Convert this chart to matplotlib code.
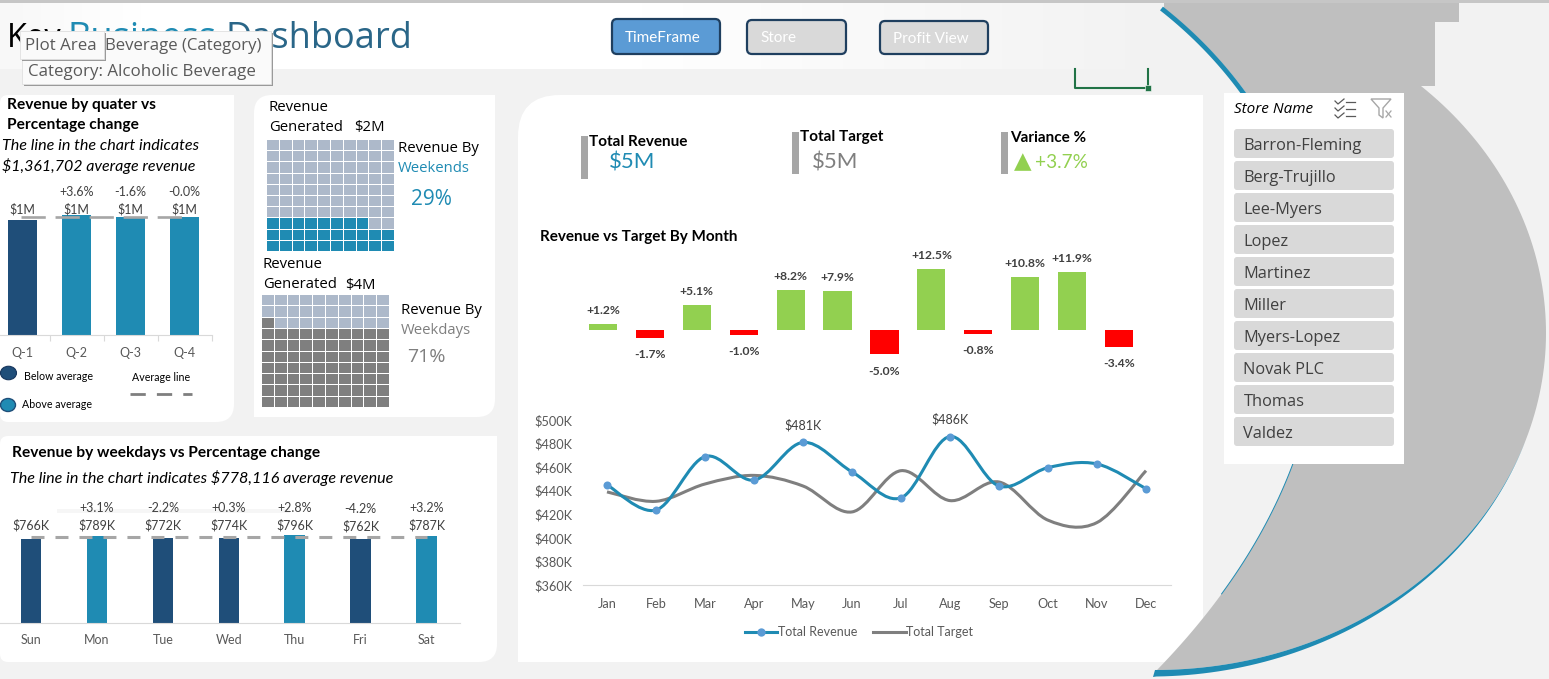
import numpy as np
import matplotlib
matplotlib.use('Agg')
import matplotlib.pyplot as plt
from matplotlib.colors import ListedColormap, LinearSegmentedColormap
from matplotlib.lines import Line2D
from matplotlib.patches import FancyBboxPatch, PathPatch, Polygon, Ellipse, Rectangle
from matplotlib.path import Path

W, H = 1549, 679
TEAL = '#1f8bb3'
NAVY = '#1f4e79'
GREEN = '#92d050'
RED = '#ff0000'
GREY = '#7f7f7f'
DASH = '#a6a6a6'
TXT = '#404040'
BG = '#f2f2f2'

quarters = ['Q-1', 'Q-2', 'Q-3', 'Q-4']
quarter_rev = [1.331, 1.388, 1.366, 1.366]
quarter_avg = 1.361702
quarter_lbl = ['$1M', '$1M', '$1M', '$1M']
quarter_chg = ['', '+3.6%', '-1.6%', '-0.0%']

days = ['Sun', 'Mon', 'Tue', 'Wed', 'Thu', 'Fri', 'Sat']
day_rev = [766, 789, 772, 774, 796, 762, 787]
day_avg = 778.116
day_chg = ['', '+3.1%', '-2.2%', '+0.3%', '+2.8%', '-4.2%', '+3.2%']

months = ['Jan', 'Feb', 'Mar', 'Apr', 'May', 'Jun', 'Jul', 'Aug', 'Sep', 'Oct', 'Nov', 'Dec']
variance = [1.2, -1.7, 5.1, -1.0, 8.2, 7.9, -5.0, 12.5, -0.8, 10.8, 11.9, -3.4]
revenue = [445, 423.6, 469, 449, 481, 456, 434, 486, 444, 459.6, 462.7, 441.7]
target = [439, 431, 445.7, 453, 444, 422, 457, 431.6, 447.4, 415, 413, 457]
y_ticks = [360, 380, 400, 420, 440, 460, 480, 500]

weekend_cells = 28
weekday_cells = 71
stores = ['Barron-Fleming', 'Berg-Trujillo', 'Lee-Myers', 'Lopez', 'Martinez',
          'Miller', 'Myers-Lopez', 'Novak PLC', 'Thomas', 'Valdez']

CAL = ['Lato', 'DejaVu Sans']
SEG = ['Open Sans', 'DejaVu Sans']

fig = plt.figure(figsize=(W / 100, H / 100), dpi=100, facecolor=BG)
base = fig.add_axes([0, 0, 1, 1])
base.set_xlim(0, W)
base.set_ylim(H, 0)
base.axis('off')


def box_axes(x0, y0, x1, y1):
    # axes from pixel box of the picture
    ax = fig.add_axes([x0 / W, 1 - y1 / H, (x1 - x0) / W, (y1 - y0) / H])
    ax.patch.set_alpha(0)
    return ax


def txt(x, y, s, size=11, color='black', family=CAL, **kw):
    kw.setdefault('va', 'center')
    return base.text(x, y + 1.5, s, fontsize=size, color=color, family=family, **kw)


def panel(x0, y0, x1, y1, tl=0, tr=0, br=0, bl=0, color='white', z=2):
    v = [(x0 + tl, y0), (x1 - tr, y0), (x1, y0), (x1, y0 + tr), (x1, y1 - br), (x1, y1),
         (x1 - br, y1), (x0 + bl, y1), (x0, y1), (x0, y1 - bl), (x0, y0 + tl), (x0, y0), (x0 + tl, y0)]
    c = [Path.MOVETO, Path.LINETO, Path.CURVE3, Path.CURVE3, Path.LINETO, Path.CURVE3, Path.CURVE3,
         Path.LINETO, Path.CURVE3, Path.CURVE3, Path.LINETO, Path.CURVE3, Path.CURVE3]
    base.add_patch(PathPatch(Path(v, c), fc=color, ec='none', zorder=z))


def smooth_path(xs, ys):
    # Excel style smoothed line, bezier segments through the points
    p = np.column_stack([xs, ys]).astype(float)
    q = np.vstack([p[0], p, p[-1]])
    v = [p[0]]
    c = [Path.MOVETO]
    for i in range(len(p) - 1):
        v += [q[i + 1] + (q[i + 2] - q[i]) / 6, q[i + 2] - (q[i + 3] - q[i + 1]) / 6, q[i + 2]]
        c += [Path.CURVE4] * 3
    return Path(v, c)


def button(x0, y0, x1, y1, s, fc, tx):
    base.add_patch(FancyBboxPatch((x0 + 5, y0 + 5), x1 - x0 - 10, y1 - y0 - 10,
                                  boxstyle='round,pad=5,rounding_size=5', fc=fc, ec='#1f3f5f', lw=1.6, zorder=4))
    txt(tx, (y0 + y1) / 2, s, 11, 'white', zorder=5)


# banner
grad = LinearSegmentedColormap.from_list('g', [(0, '#f8f8f8'), (0.12, 'white'), (0.55, 'white'), (1, BG)])
base.imshow(np.linspace(0, 1, 256).reshape(1, -1), extent=(0, 1166, 69, 3), aspect='auto', cmap=grad, zorder=1)
base.set_xlim(0, W)
base.set_ylim(H, 0)

# big crescent, sits over the corner of the main panel but under the slicer
ang = np.linspace(-np.arcsin(247 / 337), np.pi / 2, 120)
outer = np.column_stack([1155 + 391 * np.cos(ang), 333 + 337 * np.sin(ang)])
tt = np.linspace(0, 1, 120)[:, None]
inner = ((1 - tt) ** 3 * np.array([[1164, 8]]) + 3 * (1 - tt) ** 2 * tt * np.array([[1345, 150]])
         + 3 * (1 - tt) * tt ** 2 * np.array([[1400, 420]]) + tt ** 3 * np.array([[1157, 670]]))
top = [(1164, 2), (1459, 2), (1459, 22), (1435, 22), (1435, 86)]
base.add_patch(Polygon(np.vstack([top, outer, inner[::-1]]), fc='#bfbfbf', ec='none', zorder=1.5))
low = outer[outer[:, 1] > 440]
wid = np.linspace(0, 6.5, len(low))
strip = np.vstack([low, [[1153, 677]], np.column_stack([low[:, 0] + wid * 0.2, low[:, 1] + wid])[::-1]])
base.add_patch(Polygon(strip, fc=TEAL, ec='none', zorder=1.6))
up = inner[inner[:, 1] < 110]
base.plot(up[:, 0] - 2.5, up[:, 1] + 0.5, color=TEAL, lw=3.4, solid_capstyle='butt', zorder=1.6)
mid = inner[(inner[:, 1] > 440) & (inner[:, 1] < 600)]
base.plot(mid[:, 0], mid[:, 1], color=TEAL, lw=0.7, zorder=1.6)
base.add_patch(Rectangle((0, 0), W, 2.5, fc='#c6c6c6', ec='none', zorder=6))

# cell selection left on the sheet
base.plot([1075, 1075, 1148, 1148], [69, 88, 88, 69], color='#217346', lw=1.5, zorder=3)
base.add_patch(Rectangle((1145, 85), 6, 6, fc='#217346', ec='white', lw=0.4, zorder=3))

# white panels
panel(0, 95, 234, 422, tl=8, br=18, bl=8)
panel(254, 95, 495, 417, tl=18, br=18)
panel(0, 436, 497, 662, tl=8, br=18, bl=8)
panel(518, 95, 1203, 662, tl=42, z=1.4)
panel(1224, 93, 1404, 464)

# title and tooltips
txt(7, 37, 'Key', 23.5, 'black', SEG)
txt(68, 37, 'Business', 26, TEAL, SEG)
txt(226, 37, 'Dashboard', 26, '#2a6688', SEG)
base.add_patch(Rectangle((24, 33), 249, 53, fc='#9a9a9a', ec='none', zorder=7))
base.add_patch(Rectangle((22, 31), 249, 53, fc='#fafafa', ec='#e0e0e0', lw=0.6, zorder=7.1))
base.add_patch(Rectangle((22, 33), 84, 28, fc='#9a9a9a', ec='none', zorder=7.2))
base.add_patch(Rectangle((20, 31), 84, 28, fc='#fafafa', ec='#e0e0e0', lw=0.6, zorder=7.3))
txt(25, 45, 'Plot Area', 12.2, '#595959', SEG, zorder=8)
txt(105, 45, 'Beverage (Category)', 12.1, '#595959', SEG, zorder=8)
txt(28, 70, 'Category: Alcoholic Beverage', 12.2, '#595959', SEG, zorder=8)

button(612, 19, 720, 54, 'TimeFrame', '#5b9bd5', 625)
button(747, 20, 846, 54, 'Store', '#d9d9d9', 760)
button(880, 21, 988, 54, 'Profit View', '#d9d9d9', 893)

# quarter chart
txt(7, 104, 'Revenue by quater vs', 11.2, weight='bold', zorder=5)
txt(7, 124, 'Percentage change', 11.2, weight='bold', zorder=5)
txt(2, 145, 'The line in the chart indicates', 11.6, style='italic', zorder=5)
txt(2, 165, '$1,361,702 average revenue', 11.5, style='italic', zorder=5)

ax = box_axes(-4.5, 180, 211.5, 335)
q_colors = [NAVY if v < quarter_avg else TEAL for v in quarter_rev]
ax.bar(range(4), quarter_rev, width=0.535, color=q_colors)
ax.plot([-0.02, 3], [quarter_avg, quarter_avg], color=DASH, lw=1.9, ls=(0, (9.2, 3.7)))
ax.set_xlim(-0.5, 3.5)
ax.set_ylim(0, 155 / 86.4)
ax.set_xticks([0.5, 1.5, 2.5, 3.5])
ax.set_xticklabels([])
ax.tick_params(axis='x', length=4, color='#d9d9d9', direction='out')
ax.set_yticks([])
for s in ['top', 'left', 'right']:
    ax.spines[s].set_visible(False)
ax.spines['bottom'].set_color('#d9d9d9')
for i, q in enumerate(quarters):
    ax.annotate(q, (i, 0), xytext=(0, -13), textcoords='offset points', ha='center', va='center',
                fontsize=9, color='#595959', family=CAL, annotation_clip=False)
    ax.annotate(quarter_lbl[i], (i, quarter_avg), xytext=(0, 6), textcoords='offset points', ha='center', va='center',
                fontsize=9, color=TXT, family=CAL)
    ax.annotate(quarter_chg[i], (i, quarter_avg), xytext=(0, 18), textcoords='offset points', ha='center', va='center',
                fontsize=9, color=TXT, family=CAL)

base.add_patch(Ellipse((8.5, 373), 16, 13.5, fc=NAVY, ec='#17365d', lw=0.8, zorder=5))
base.add_patch(Ellipse((8, 405), 15, 13, fc=TEAL, ec=NAVY, lw=1, zorder=5))
txt(24, 375, 'Below average', 7.7, zorder=5)
txt(22, 403, 'Above average', 7.7, zorder=5)
txt(132, 376, 'Average line', 7.7, zorder=5)
base.plot([130, 192], [394, 394], color=GREY, lw=2, ls=(0, (5.5, 4)), zorder=5)

# waffles
def waffle(x0, y0, x1, y1, filled, on, off):
    grid = np.arange(100).reshape(10, 10)
    grid = (grid < filled).astype(int)
    ax = box_axes(x0, y0, x1, y1)
    ax.pcolormesh(np.arange(11), np.arange(11), grid, cmap=ListedColormap([off, on]), vmin=0, vmax=1,
                  edgecolors='white', linewidth=0.7)
    ax.set_xlim(0, 10)
    ax.set_ylim(0, 10)
    ax.axis('off')


waffle(266, 139, 394, 251, weekend_cells, TEAL, '#adb9ca')
waffle(261, 294, 389, 407, weekday_cells, GREY, '#adb9ca')
txt(269, 106, 'Revenue', 10.7, zorder=5, family=SEG)
txt(269, 126, 'Generated', 10.7, zorder=5, family=SEG)
txt(354, 126, '$2M', 10.7, zorder=5, family=SEG)
txt(398, 147, 'Revenue By', 10.7, zorder=5, family=SEG)
txt(398, 167, 'Weekends', 10.7, TEAL, zorder=5, family=SEG)
txt(411, 198, '29%', 15, TEAL, zorder=5, family=SEG)
txt(263, 263, 'Revenue', 10.7, zorder=5, family=SEG)
txt(263, 283, 'Generated', 10.7, zorder=5, family=SEG)
txt(345, 284, '$4M', 10.7, zorder=5, family=SEG)
txt(401, 309, 'Revenue By', 10.7, zorder=5, family=SEG)
txt(401, 329, 'Weekdays', 10.7, GREY, zorder=5, family=SEG)
txt(407, 356, '71%', 14, GREY, zorder=5, family=SEG)

# weekday chart
txt(12, 452, 'Revenue by weekdays vs Percentage change', 11.2, weight='bold', zorder=5)
txt(10, 477, 'The line in the chart indicates $778,116 average revenue', 11.6, style='italic', zorder=5)
base.add_patch(Rectangle((57, 509), 233, 4, fc='#f6f6f6', ec='none', zorder=3))

ax = box_axes(-2, 500, 459.5, 623)
d_colors = [NAVY if v < day_avg else TEAL for v in day_rev]
ax.bar(range(7), day_rev, width=0.31, color=d_colors)
ax.plot([0, 6], [day_avg, day_avg], color=DASH, lw=2.2, ls=(0, (4.25, 3.6)))
ax.set_xlim(-0.5, 6.5)
ax.set_ylim(0, 123 / 0.1101)
ax.set_yticks([])
ax.set_xticks([])
for s in ['top', 'left', 'right']:
    ax.spines[s].set_visible(False)
ax.spines['bottom'].set_color('#d9d9d9')
for i, d in enumerate(days):
    dy = -0.7 if d == 'Fri' else 0
    ax.annotate(d, (i, 0), xytext=(0, -12.5), textcoords='offset points', ha='center', va='center',
                fontsize=9, color='#595959', family=CAL, annotation_clip=False)
    ax.annotate('$%dK' % day_rev[i], (i, day_avg), xytext=(0, 9 + dy), textcoords='offset points', ha='center', va='center',
                fontsize=9, color=TXT, family=CAL)
    ax.annotate(day_chg[i], (i, day_avg), xytext=(0, 21 + dy), textcoords='offset points', ha='center', va='center',
                fontsize=9, color=TXT, family=CAL)

# KPI row
base.add_patch(Rectangle((581, 136), 7, 43, fc=DASH, ec='none', zorder=3))
base.add_patch(Rectangle((792, 132), 7, 42, fc=DASH, ec='none', zorder=3))
base.add_patch(Rectangle((1001, 132), 7, 42, fc=DASH, ec='none', zorder=3))
txt(589, 140, 'Total Revenue', 11, weight='bold', zorder=5)
txt(609, 161, '$5M', 16, TEAL, zorder=5)
txt(800, 136, 'Total Target', 11, weight='bold', zorder=5)
txt(812, 161, '$5M', 16, GREY, zorder=5)
txt(1010, 136, 'Variance %', 11, weight='bold', zorder=5)
txt(1014, 160, '▲', 16.5, GREEN, zorder=5)
txt(1035, 161, '+3.7%', 13.7, GREEN, zorder=5)
txt(540, 236, 'Revenue vs Target By Month', 11, weight='bold', zorder=5)

# variance bars
ax = box_axes(579.5, 240, 1142.5, 390)
v_colors = [GREEN if v > 0 else RED for v in variance]
ax.bar(range(12), variance, width=0.6, color=v_colors)
ax.set_xlim(-0.5, 11.5)
ax.set_ylim(-60 / 4.88, 90 / 4.88)
ax.axis('off')
for i, v in enumerate(variance):
    ax.annotate('%+.1f%%' % v, (i, v), xytext=(0, 10 if v > 0 else -12), textcoords='offset points',
                ha='center', va='center', fontsize=8.7, weight='bold', color=TXT, family=CAL)

# revenue vs target lines
ax = box_axes(582.5, 410, 1170.5, 585)
xs = np.arange(12)
ax.add_patch(PathPatch(smooth_path(xs, target), fc='none', ec=GREY, lw=2.2))
ax.add_patch(PathPatch(smooth_path(xs, revenue), fc='none', ec=TEAL, lw=2.2))
ax.plot(xs, revenue, 'o', color='#5b9bd5', ms=5.8, mew=0)
ax.set_xlim(-0.5, 11.5)
ax.set_ylim(360, 360 + 175 / (165 / 140))
ax.set_xticks(xs)
ax.set_xticklabels(months)
ax.set_yticks(y_ticks)
ax.set_yticklabels(['$%dK' % v for v in y_ticks])
ax.tick_params(length=0, labelsize=9.2, labelcolor='#595959')
ax.tick_params(axis='y', pad=7)
ax.tick_params(axis='x', pad=9)
for lab in ax.get_xticklabels() + ax.get_yticklabels():
    lab.set_family(CAL)
for s in ['top', 'left', 'right']:
    ax.spines[s].set_visible(False)
ax.spines['bottom'].set_color('#d9d9d9')
ax.annotate('$481K', (4, revenue[4]), xytext=(0, 12), textcoords='offset points', ha='center', va='center',
            fontsize=9, color=TXT, family=CAL)
ax.annotate('$486K', (7, revenue[7]), xytext=(0, 12.5), textcoords='offset points', ha='center', va='center',
            fontsize=9, color=TXT, family=CAL, annotation_clip=False)
handles = [Line2D([], [], color=TEAL, lw=2.2, marker='o', mfc='#5b9bd5', mec='none', ms=6),
           Line2D([], [], color=GREY, lw=2.2)]
leg = ax.legend(handles, ['Total Revenue', 'Total Target'], ncol=2, frameon=False, loc='center',
                bbox_to_anchor=(859 / W, 1 - 632 / H), bbox_transform=fig.transFigure,
                prop={'family': CAL, 'size': 9}, labelcolor='#595959', handlelength=2.6,
                handletextpad=0.05, columnspacing=1.3)

# store slicer
txt(1234, 108, 'Store Name', 11, family=SEG, style='italic', zorder=5)
for y in [102, 109, 116]:
    base.plot([1346, 1355], [y, y], color='#595959', lw=0.9, zorder=5)
    base.plot([1335, 1338, 1344], [y - 1, y + 2, y - 3], color='#595959', lw=0.9, zorder=5)
base.add_patch(Polygon([(1371, 99), (1391, 99), (1383, 108), (1383, 118), (1379, 115), (1379, 108)],
                       fc='none', ec='#a6a6a6', lw=1, zorder=5))
base.plot([1386, 1391], [111, 117], color='#a6a6a6', lw=0.9, zorder=5)
base.plot([1391, 1386], [111, 117], color='#a6a6a6', lw=0.9, zorder=5)
for i, s in enumerate(stores):
    y = 129 + i * 32
    base.add_patch(FancyBboxPatch((1237, y + 3), 154, 23, boxstyle='round,pad=3,rounding_size=3',
                                  fc='#d9d9d9', ec='none', zorder=4))
    txt(1243.5, y + 16, s, 11.8, TXT, SEG, zorder=5)

fig.savefig('out.png', dpi=100, facecolor=BG)
